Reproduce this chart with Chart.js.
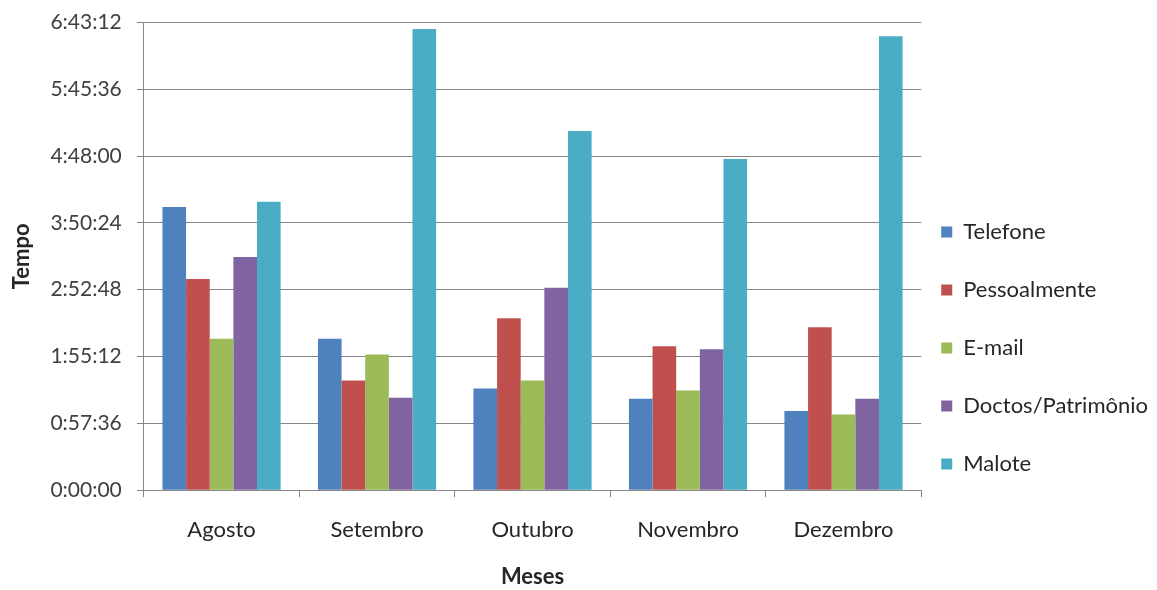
<!DOCTYPE html>
<html>
<head>
<meta charset="utf-8">
<script src="https://cdn.jsdelivr.net/npm/chart.js@4/dist/chart.umd.min.js"></script>
<style>
  html, body { margin: 0; padding: 0; background: #fff; }
  #wrap { width: 1157px; height: 590px; position: relative; }
</style>
</head>
<body>
<div id="wrap"><canvas id="chart"></canvas></div>
<script>
// months and time values (seconds)
const meses = ["Agosto", "Setembro", "Outubro", "Novembro", "Dezembro"]

const telefone = [14650, 7830, 5265, 4730, 4095]
const pessoalmente = [10920, 5670, 8890, 7445, 8425]
const email = [7825, 7015, 5670, 5160, 3920]
const doctos = [12055, 4780, 10470, 7290, 4730]
const malote = [14910, 23845, 18570, 17125, 23470]

const yMax = 24192
const yStep = 3456

Chart.defaults.font.family = "Lato, 'Open Sans', sans-serif"
Chart.defaults.color = "#404040"

const fmtTempo = (s) => {
  const h = Math.floor(s / 3600)
  const m = Math.floor((s % 3600) / 60)
  const sec = Math.round(s % 60)
  return `${h}:${String(m).padStart(2, "0")}:${String(sec).padStart(2, "0")}`
}

const series = [
  { label: "Telefone", data: telefone, color: "#4F81BD" },
  { label: "Pessoalmente", data: pessoalmente, color: "#C0504D" },
  { label: "E-mail", data: email, color: "#9BBB59" },
  { label: "Doctos/Patrimônio", data: doctos, color: "#8064A2" },
  { label: "Malote", data: malote, color: "#4BACC6" },
]

// move the legend closer to the plot and a bit lower, like the original
const legendNudge = {
  id: "legendNudge",
  afterLayout(chart) {
    const lg = chart.legend
    const dx = chart.chartArea.right + 20 - (lg.left + lg.options.labels.padding)
    const dy = 42
    lg.left += dx
    lg.right += dx
    lg.top += dy
    lg.bottom += dy
  },
}

new Chart(document.getElementById("chart").getContext("2d"), {
  type: "bar",
  data: {
    labels: meses,
    datasets: series.map((s) => ({
      label: s.label,
      data: s.data,
      backgroundColor: s.color,
      borderWidth: 0,
      barPercentage: 1,
      categoryPercentage: 0.76,
    })),
  },
  plugins: [legendNudge],
  options: {
    responsive: true,
    maintainAspectRatio: false,
    animation: false,
    layout: {
      padding: { top: 22, right: -17, bottom: 0, left: 9 },
    },
    plugins: {
      tooltip: { enabled: false },
      legend: {
        position: "right",
        labels: {
          boxWidth: 11,
          boxHeight: 11,
          padding: 36,
          color: "#262626",
          font: { size: 22 },
        },
      },
    },
    scales: {
      x: {
        grid: {
          drawOnChartArea: false,
          color: "#868686",
          tickLength: 7,
        },
        border: { color: "#868686", width: 1 },
        ticks: {
          padding: 20,
          color: "#262626",
          font: { size: 22 },
        },
        title: {
          display: true,
          text: "Meses",
          color: "#262626",
          font: { size: 22, weight: "bold" },
          padding: { top: 0, bottom: 0 },
        },
      },
      y: {
        min: 0,
        max: yMax,
        grid: {
          color: "#868686",
          tickLength: 7,
        },
        border: { color: "#868686", width: 1 },
        ticks: {
          stepSize: yStep,
          padding: 15,
          color: "#404040",
          font: { size: 21, lineHeight: 0.7 },
          callback: (v) => fmtTempo(v),
        },
        title: {
          display: true,
          text: "Tempo",
          color: "#262626",
          font: { size: 22, weight: "bold" },
          padding: { top: 0, bottom: 0 },
        },
      },
    },
  },
})
</script>
</body>
</html>
